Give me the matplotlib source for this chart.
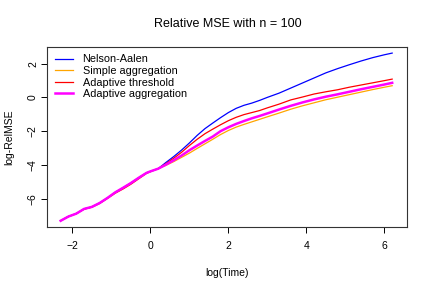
import matplotlib
matplotlib.use("Agg")
import matplotlib.pyplot as plt

plt.rcParams['font.family'] = ['Liberation Sans', 'DejaVu Sans']

# valeurs (log(Time), log-RelMSE)
x_common = [-2.3, -2.1, -1.9, -1.7, -1.5, -1.3, -1.1, -0.9, -0.7, -0.5, -0.3, -0.1, 0.0, 0.2]
y_common = [-7.30, -7.05, -6.88, -6.60, -6.48, -6.25, -5.95, -5.62, -5.35, -5.07, -4.76, -4.47, -4.38, -4.22]
red_common = [-7.30, -7.05, -6.88, -6.62, -6.50, -6.28, -5.98, -5.67, -5.42, -5.14, -4.82, -4.50, -4.40, -4.22]

x_tail = [0.4, 0.6, 0.8, 1.0, 1.2, 1.4, 1.6, 1.8, 2.0, 2.2, 2.4, 2.6, 2.8, 3.0,
          3.3, 3.6, 3.9, 4.2, 4.5, 4.8, 5.1, 5.4, 5.7, 6.0, 6.2]
nelson_aalen = [-3.85, -3.50, -3.12, -2.70, -2.25, -1.85, -1.52, -1.20, -0.90, -0.65,
                -0.47, -0.34, -0.18, 0.00, 0.25, 0.55, 0.85, 1.15, 1.45, 1.70,
                1.93, 2.15, 2.35, 2.52, 2.62]
simple_agg = [-4.02, -3.80, -3.55, -3.30, -3.02, -2.75, -2.48, -2.20, -1.96, -1.76,
              -1.60, -1.45, -1.30, -1.15, -0.93, -0.70, -0.50, -0.32, -0.14, 0.01,
              0.16, 0.31, 0.46, 0.60, 0.69]
adapt_thresh = [-3.92, -3.60, -3.25, -2.85, -2.48, -2.15, -1.88, -1.62, -1.38, -1.18,
                -1.02, -0.90, -0.78, -0.62, -0.40, -0.15, 0.02, 0.20, 0.33, 0.45,
                0.60, 0.73, 0.86, 0.99, 1.08]
adapt_agg = [-3.98, -3.72, -3.44, -3.13, -2.85, -2.58, -2.32, -2.00, -1.77, -1.57,
             -1.40, -1.24, -1.10, -0.95, -0.72, -0.50, -0.30, -0.12, 0.04, 0.18,
             0.33, 0.48, 0.62, 0.76, 0.86]

x_all = x_common + x_tail

fig = plt.figure(figsize=(4.31, 2.86), dpi=100)
ax = fig.add_axes([47/431, 1 - 227/286, 360/431, 180/286])

ax.plot(x_all, y_common + nelson_aalen, color='blue', lw=0.9, label='Nelson-Aalen')
ax.plot(x_all, y_common + simple_agg, color='orange', lw=0.9, label='Simple aggregation')
ax.plot(x_all, red_common + adapt_thresh, color='red', lw=0.9, label='Adaptive threshold')
ax.plot(x_all, y_common + adapt_agg, color='magenta', lw=1.8, label='Adaptive aggregation')

ax.set_xlim(-2.65, 6.58)
ax.set_ylim(-7.67, 2.98)
ax.set_xticks([-2, 0, 2, 4, 6])
ax.set_yticks([-6, -4, -2, 0, 2])
ax.tick_params(labelsize=7.5, length=4, width=0.7)
ax.tick_params(axis='x', pad=6)
ax.tick_params(axis='y', pad=2.5)
for lab in ax.get_yticklabels():
    lab.set_rotation(90)
    lab.set_va('center')
for s in ax.spines.values():
    s.set_linewidth(0.8)
    s.set_color('#333333')

ax.set_xlabel('log(Time)', fontsize=7.5, labelpad=12)
ax.set_ylabel('log-RelMSE', fontsize=7.5, labelpad=10)
fig.text(0.528, 1 - 24/286, 'Relative MSE with n = 100', ha='center', va='center', fontsize=9)

ax.legend(loc='upper left', bbox_to_anchor=(8/360, 1 - 7.5/180), frameon=False,
          fontsize=7.8, handlelength=1.7, handletextpad=0.85, labelspacing=0.14,
          borderpad=0, borderaxespad=0)

fig.savefig('out.png', dpi=100)
